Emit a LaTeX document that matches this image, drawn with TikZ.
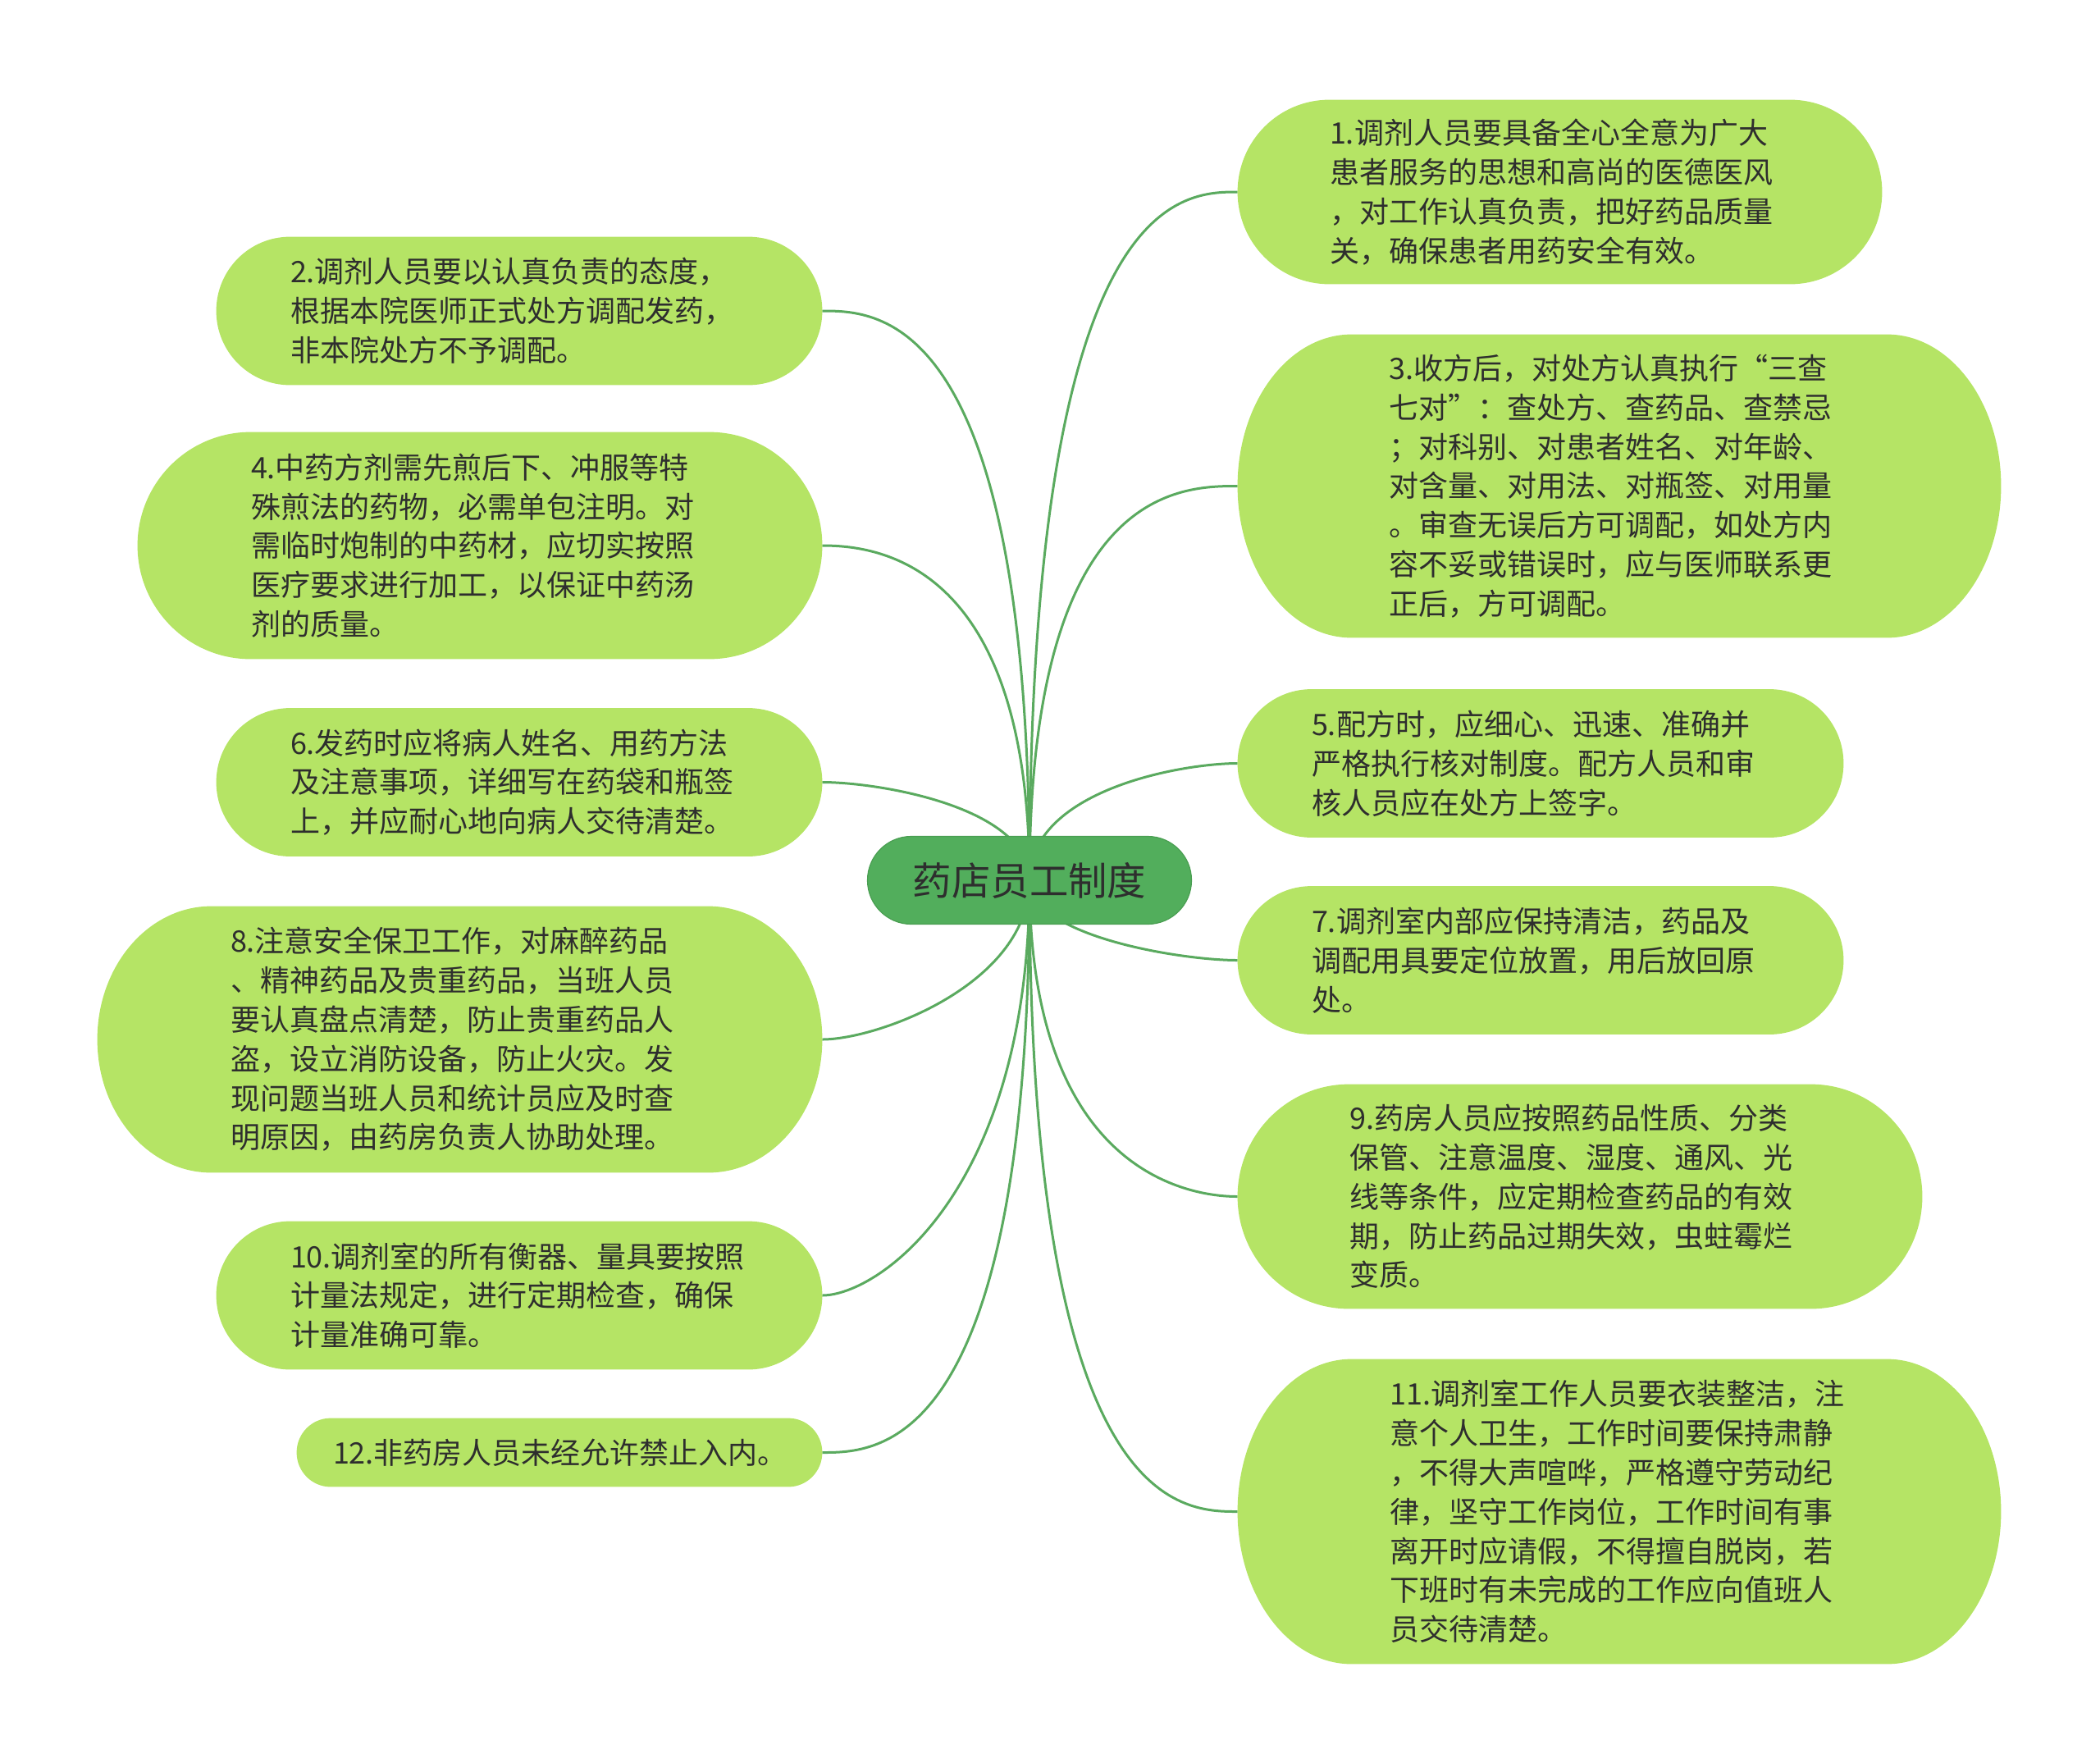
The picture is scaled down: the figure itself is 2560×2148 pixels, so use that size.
\documentclass[tikz,border=0pt]{standalone}
\usepackage{fontspec}
\setmainfont{Noto Sans CJK SC}
\usetikzlibrary{calc,shapes.misc}
\definecolor{leaf}{HTML}{B5E465}
\definecolor{link}{HTML}{5AAA5F}
\definecolor{rootc}{HTML}{52AE5C}
\definecolor{rootb}{HTML}{4A9E52}
\definecolor{txtc}{HTML}{2E2E2E}
\pgfdeclarelayer{bg}
\pgfsetlayers{bg,main}
\newcommand\pillshape[2]{%
  \path[fill=leaf] let \p1=(#1.south west), \p2=(#1.north east),
    \n1={#2}, \n2={(\y2-\y1)/2}, \n3={0.5523*\n1}, \n4={0.5523*\n2} in
   (\x1+\n1,\y1) -- (\x2-\n1,\y1)
   .. controls (\x2-\n1+\n3,\y1) and (\x2,\y1+\n2-\n4) .. (\x2,\y1+\n2)
   .. controls (\x2,\y1+\n2+\n4) and (\x2-\n1+\n3,\y2) .. (\x2-\n1,\y2)
   -- (\x1+\n1,\y2)
   .. controls (\x1+\n1-\n3,\y2) and (\x1,\y2-\n2+\n4) .. (\x1,\y2-\n2)
   .. controls (\x1,\y1+\n2-\n4) and (\x1+\n1-\n3,\y1) .. cycle;
}
\tikzset{
  leafnode/.style={rectangle, inner ysep=0pt, align=left, text=txtc,
    font=\fontsize{18pt}{23.9pt}\selectfont},
  root/.style={rounded rectangle, fill=rootc, draw=rootb, line width=0.6pt,
    minimum width=197.5pt, minimum height=53.5pt, inner sep=0pt, text=txtc,
    font=\fontsize{23.7pt}{28pt}\selectfont},
  conn/.style={draw=link, line width=1.5pt},
}
\begin{document}
\begin{tikzpicture}[x=0.5pt,y=-0.5pt]
\useasboundingbox (0,0) rectangle (2560,2148);
\node[root] (c) at (1255,1073) {药店员工制度};
% right side
\node[leafnode, minimum height=112pt, inner xsep=56pt, text width=280.5pt] (n1) at (1901.5,234)
 {1.调剂人员要具备全心全意为广大\\患者服务的思想和高尚的医德医风\\，对工作认真负责，把好药品质量\\关，确保患者用药安全有效。};
\node[leafnode, minimum height=184.5pt, inner xsep=92.25pt, text width=280.5pt] (n3) at (1974,592.5)
 {3.收方后，对处方认真执行“三查\\七对”：查处方、查药品、查禁忌\\；对科别、对患者姓名、对年龄、\\对含量、对用法、对瓶签、对用量\\。审查无误后方可调配，如处方内\\容不妥或错误时，应与医师联系更\\正后，方可调配。};
\node[leafnode, minimum height=90pt, inner xsep=45pt, text width=279pt] (n5) at (1878,930.5)
 {5.配方时，应细心、迅速、准确并\\严格执行核对制度。配方人员和审\\核人员应在处方上签字。};
\node[leafnode, minimum height=90pt, inner xsep=45pt, text width=279pt] (n7) at (1878,1170.5)
 {7.调剂室内部应保持清洁，药品及\\调配用具要定位放置，用后放回原\\处。};
\node[leafnode, minimum height=136.5pt, inner xsep=68.25pt, text width=280.5pt] (n9) at (1926,1458.5)
 {9.药房人员应按照药品性质、分类\\保管、注意温度、湿度、通风、光\\线等条件，应定期检查药品的有效\\期，防止药品过期失效，虫蛀霉烂\\变质。};
\node[leafnode, minimum height=185.5pt, inner xsep=92.75pt, text width=279.5pt] (n11) at (1974,1842.5)
 {11.调剂室工作人员要衣装整洁，注\\意个人卫生，工作时间要保持肃静\\，不得大声喧哗，严格遵守劳动纪\\律，坚守工作岗位，工作时间有事\\离开时应请假，不得擅自脱岗，若\\下班时有未完成的工作应向值班人\\员交待清楚。};
% left side
\node[leafnode, minimum height=90pt, inner xsep=45pt, text width=279pt] (n2) at (633,379)
 {2.调剂人员要以认真负责的态度，\\根据本院医师正式处方调配发药，\\非本院处方不予调配。};
\node[leafnode, minimum height=138pt, inner xsep=69pt, text width=279pt] (n4) at (585,665)
 {4.中药方剂需先煎后下、冲服等特\\殊煎法的药物，必需单包注明。对\\需临时炮制的中药材，应切实按照\\医疗要求进行加工，以保证中药汤\\剂的质量。};
\node[leafnode, minimum height=90pt, inner xsep=45pt, text width=279pt] (n6) at (633,953.5)
 {6.发药时应将病人姓名、用药方法\\及注意事项，详细写在药袋和瓶签\\上，并应耐心地向病人交待清楚。};
\node[leafnode, minimum height=162pt, inner xsep=81pt, text width=279.5pt] (n8) at (560.5,1267)
 {8.注意安全保卫工作，对麻醉药品\\、精神药品及贵重药品，当班人员\\要认真盘点清楚，防止贵重药品人\\盗，设立消防设备，防止火灾。发\\现问题当班人员和统计员应及时查\\明原因，由药房负责人协助处理。};
\node[leafnode, minimum height=90pt, inner xsep=45pt, text width=279pt] (n10) at (633,1579)
 {10.调剂室的所有衡器、量具要按照\\计量法规定，进行定期检查，确保\\计量准确可靠。};
\node[leafnode, minimum height=41.5pt, inner xsep=22pt, text width=276pt] (n12) at (682,1770.5)
 {12.非药房人员未经允许禁止入内。};
\begin{pgfonlayer}{bg}
\foreach \n/\a in {n1/1,n3/1,n5/0.77,n7/0.7,n9/0.9,n11/1}
  \draw[conn] (c.center) .. controls ($(c.center)!\a!(c.center |- \n.west)$) and ($(c.center |- \n.west)!0.73!(\n.west)$) .. (\n.west);
\foreach \n/\a in {n2/1,n4/0.95,n6/0.75,n8/0.65,n10/0.75,n12/1}
  \draw[conn] (c.center) .. controls ($(c.center)!\a!(c.center |- \n.east)$) and ($(c.center |- \n.east)!0.73!(\n.east)$) .. (\n.east);
\pillshape{n1}{56pt}
\pillshape{n3}{69.5pt}
\pillshape{n5}{45pt}
\pillshape{n7}{45pt}
\pillshape{n9}{68pt}
\pillshape{n11}{69.5pt}
\pillshape{n2}{45pt}
\pillshape{n4}{69pt}
\pillshape{n6}{45pt}
\pillshape{n8}{69.5pt}
\pillshape{n10}{45pt}
\pillshape{n12}{20.75pt}
\end{pgfonlayer}
\end{tikzpicture}
\end{document}
